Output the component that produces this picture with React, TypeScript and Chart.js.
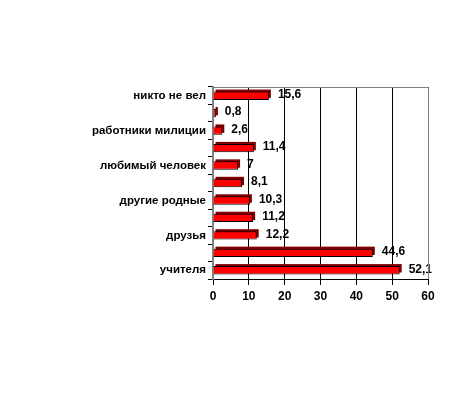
import React, { useEffect, useRef } from "react";
import { Chart, registerables } from "chart.js";

Chart.register(...registerables);

const categories = [
  "никто не вел",
  "",
  "работники милиции",
  "",
  "любимый человек",
  "",
  "другие родные",
  "",
  "друзья",
  "",
  "учителя",
];
const values = [15.6, 0.8, 2.6, 11.4, 7, 8.1, 10.3, 11.2, 12.2, 44.6, 52.1];
const valueLabels = ["15,6", "0,8", "2,6", "11,4", "7", "8,1", "10,3", "11,2", "12,2", "44,6", "52,1"];
const xTicks = [0, 10, 20, 30, 40, 50, 60];

const FONT = "'Liberation Sans', Arial, sans-serif";

const decorPlugin = {
  id: "decor",
  beforeDatasetsDraw(chart: any) {
    const ctx = chart.ctx;
    const meta = chart.getDatasetMeta(0);
    ctx.save();
    ctx.fillStyle = "#800000";
    meta.data.forEach((bar: any) => {
      const h = bar.height;
      const top = bar.y - h / 2 - 2;
      ctx.fillRect(bar.base + 2, top, bar.x - bar.base, h);
    });
    ctx.restore();
  },
  afterDatasetsDraw(chart: any) {
    const ctx = chart.ctx;
    const meta = chart.getDatasetMeta(0);
    ctx.save();
    ctx.fillStyle = "#000";
    ctx.font = `bold 12px ${FONT}`;
    ctx.textBaseline = "middle";
    ctx.textAlign = "left";
    meta.data.forEach((bar: any, i: number) => {
      ctx.fillText(valueLabels[i], bar.x + 9, bar.y - 1);
    });
    const a = chart.chartArea;
    ctx.strokeStyle = "#808080";
    ctx.lineWidth = 1;
    ctx.beginPath();
    ctx.moveTo(a.left, a.top + 0.5);
    ctx.lineTo(a.right + 0.5, a.top + 0.5);
    ctx.lineTo(a.right + 0.5, a.bottom);
    ctx.stroke();
    ctx.restore();
  },
};

export default function App() {
  const ref = useRef<HTMLCanvasElement>(null);
  useEffect(() => {
    document.body.style.margin = "0";
    const chart = new Chart(ref.current!, {
      type: "bar",
      data: {
        labels: categories,
        datasets: [
          {
            data: values,
            backgroundColor: "#ff0000",
            borderColor: "#000000",
            borderWidth: 1,
            borderSkipped: "left",
            barPercentage: 0.48,
            categoryPercentage: 1,
          },
        ],
      },
      options: {
        indexAxis: "y",
        animation: false,
        responsive: false,
        devicePixelRatio: 1,
        layout: { padding: { left: 0, top: 87, right: 28, bottom: 88 } },
        plugins: { legend: { display: false }, tooltip: { enabled: false } },
        scales: {
          x: {
            min: 0,
            max: 60,
            afterBuildTicks: (s: any) => {
              s.ticks = xTicks.map((v) => ({ value: v }));
            },
            afterFit: (s: any) => {
              s.height = 31;
            },
            grid: {
              color: "#000",
              lineWidth: 1,
              tickLength: 6,
              drawOnChartArea: true,
            },
            border: { color: "#000", width: 1 },
            ticks: {
              color: "#000",
              font: { family: FONT, size: 12, weight: "bold" },
              padding: 4,
            },
          },
          y: {
            afterFit: (s: any) => {
              s.width = 213;
            },
            grid: {
              drawOnChartArea: false,
              color: "#000",
              tickLength: 5,
              offset: true,
            },
            border: { color: "#808080", width: 2 },
            ticks: {
              color: "#000",
              autoSkip: false,
              font: { family: FONT, size: 11.5, weight: "bold" },
              padding: 2,
            },
          },
        },
      },
      plugins: [decorPlugin],
    } as any);
    return () => chart.destroy();
  }, []);
  return <canvas ref={ref} width={456} height={398} style={{ display: "block" }} />;
}
